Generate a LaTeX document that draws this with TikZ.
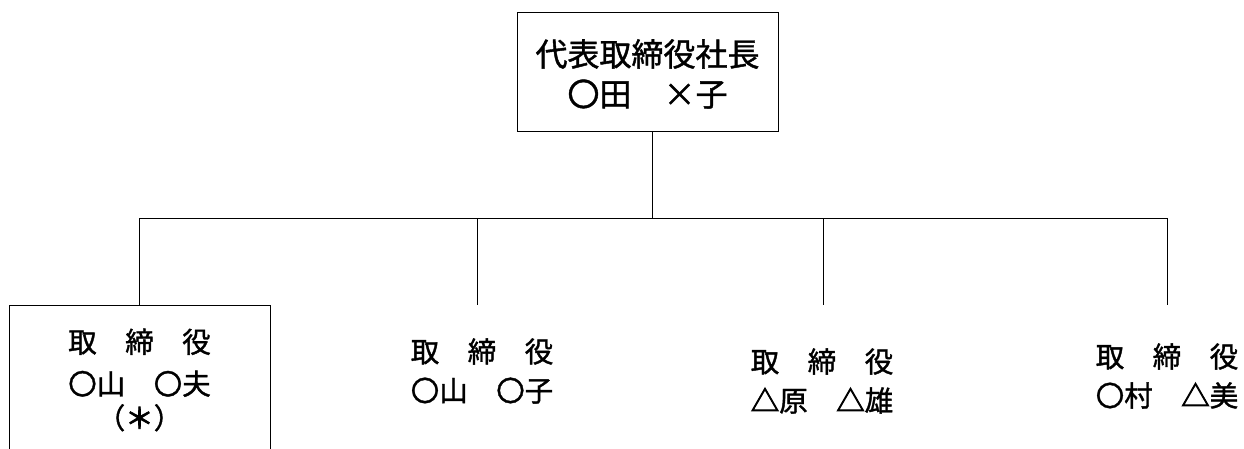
\documentclass[tikz,border=0pt]{standalone}
\usepackage{fontspec}
\newfontfamily\jp[FakeBold=1.3]{Noto Sans CJK JP}
\newfontfamily\jpheavy[FakeBold=3]{Noto Sans CJK JP}
\newcommand{\heavytri}{{\jpheavy △}}
\newcommand{\heavyast}{{\jpheavy ＊}}
\tikzset{
  orgbox/.style={draw, line width=0.9pt, inner sep=0pt},
  big/.style={font=\jp\fontsize{32}{40}\selectfont, align=center},
  small/.style={font=\jp\fontsize{28.5}{39}\selectfont, align=center},
  conn/.style={line width=0.9pt}
}
\begin{document}
\begin{tikzpicture}[x=1pt,y=-1pt]
\useasboundingbox (0,0) rectangle (1244,448);
% top box
\node[orgbox, minimum width=261pt, minimum height=119pt] (ceo) at (647.5,71.5) {};
\node[big] (ceot) at (647.5,74) {代表取締役社長\\〇田　×子};
% left box (extends beyond bottom edge)
\begin{scope}
\clip (0,0) rectangle (1244,448);
\node[orgbox, minimum width=261pt, minimum height=180pt, anchor=north] (d1) at (139.5,305) {};
\end{scope}
\node[small, font=\jp\fontsize{28.5}{42}\selectfont] (d1t) at (139.5,380) {取　締　役\\〇山　〇夫\\[-8pt]（\heavyast）};
% other directors
\node[small] (d2) at (482,371) {取　締　役\\〇山　〇子};
\node[small] (d3) at (822,381) {取　締　役\\\heavytri 原　\heavytri 雄};
\node[small] (d4) at (1167,376) {取　締　役\\〇村　\heavytri 美};
% connectors
\coordinate (busc) at (652,218);
\coordinate (busl) at (139.5,218);
\coordinate (busr) at (1167,218);
\coordinate (e2a) at (477,218);
\coordinate (e2b) at (477,305);
\coordinate (e3a) at (823,218);
\coordinate (e3b) at (823,305);
\coordinate (e4b) at (1167,305);
\draw[conn] (ceo.south -| busc) -- (busc);
\draw[conn] (busl) -- (busr);
\draw[conn] (busl) -- (d1.north);
\draw[conn] (e2a) -- (e2b);
\draw[conn] (e3a) -- (e3b);
\draw[conn] (busr) -- (e4b);
\end{tikzpicture}
\end{document}
